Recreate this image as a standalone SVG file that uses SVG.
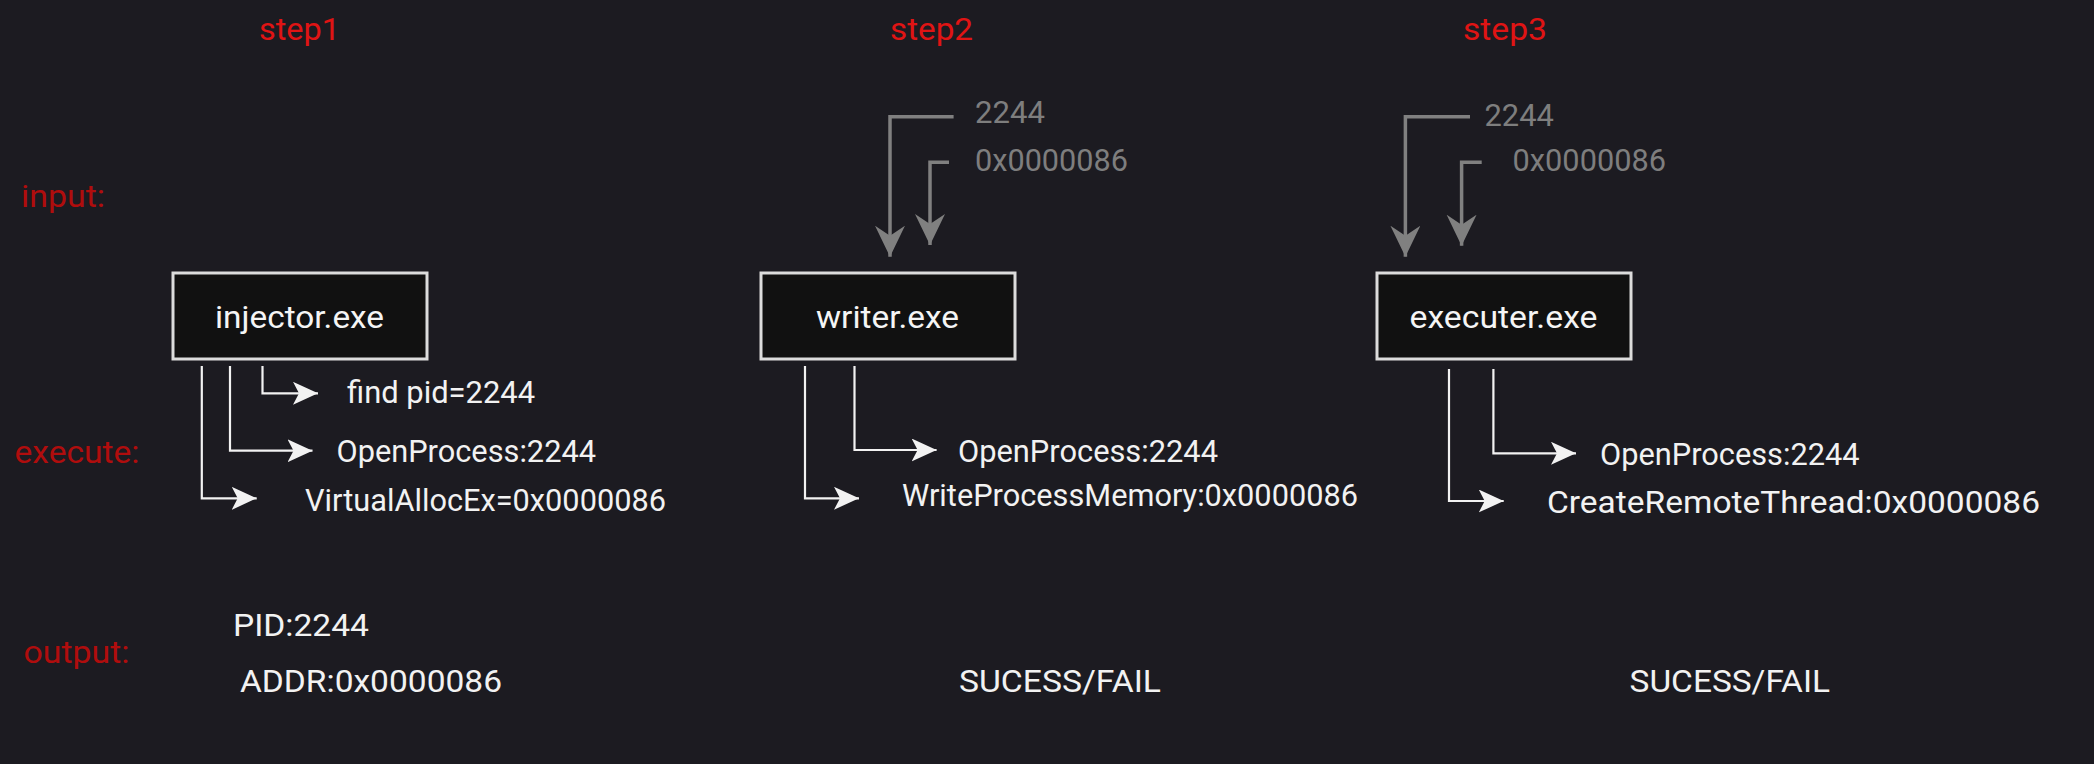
<svg xmlns="http://www.w3.org/2000/svg" width="2094" height="764" viewBox="0 0 2094 764">
  <defs>
    <style>
      text { font-family: Roboto, "Liberation Sans", sans-serif; font-size: 32px; }
      .step { fill: #e01414; }
      .lbl { fill: #b00d0d; }
      .w { fill: #f2f2f2; }
      .g { fill: #7e7e7e; font-size: 31px; }
      .box rect { fill: #111111; stroke: #dcdcdc; stroke-width: 3; }
      .box text { fill: #f5f5f5; text-anchor: middle; }
      .cw { fill: none; stroke: #f2f2f2; stroke-width: 2.2; marker-end: url(#aw); }
      .cg { fill: none; stroke: #808080; stroke-width: 3.5; marker-end: url(#ag); }
    </style>
    <marker id="aw" markerUnits="userSpaceOnUse" markerWidth="26" markerHeight="24" refX="25" refY="11.5" orient="auto" viewBox="0 0 26 24">
      <path d="M0,0 L25,11.5 L0,23 L6,11.5 Z" fill="#f2f2f2"/>
    </marker>
    <marker id="ag" markerUnits="userSpaceOnUse" markerWidth="32" markerHeight="31" refX="31" refY="15" orient="auto" viewBox="0 0 32 31">
      <path d="M0,0 L31,15 L0,30 L10,15 Z" fill="#808080"/>
    </marker>
  </defs>
  <rect width="2094" height="764" fill="#1c1b21"/>

  <g id="labels">
    <text class="step" x="259" y="40" textLength="81" lengthAdjust="spacingAndGlyphs">step1</text>
    <text class="step" x="890" y="40" textLength="83" lengthAdjust="spacingAndGlyphs">step2</text>
    <text class="step" x="1463" y="40" textLength="84" lengthAdjust="spacingAndGlyphs">step3</text>
    <text class="lbl" x="21" y="207" textLength="84" lengthAdjust="spacingAndGlyphs">input:</text>
    <text class="lbl" x="14.5" y="463" textLength="125" lengthAdjust="spacingAndGlyphs">execute:</text>
    <text class="lbl" x="23.5" y="663" textLength="106" lengthAdjust="spacingAndGlyphs">output:</text>
  </g>

  <g id="connectors">
    <path class="cw" d="M262.5,366 V393.3 H318"/>
    <path class="cw" d="M230,366 V450.7 H312.5"/>
    <path class="cw" d="M201.8,366 V498.3 H256.7"/>
    <path class="cg" d="M953.6,116.7 H890 V256.7"/>
    <path class="cg" d="M949,162.3 H930 V245"/>
    <path class="cw" d="M854.5,366 V450 H936.6"/>
    <path class="cw" d="M805,366 V498.3 H859"/>
    <path class="cg" d="M1470,116.7 H1405.4 V256.7"/>
    <path class="cg" d="M1481.7,162.3 H1461.6 V245.7"/>
    <path class="cw" d="M1493.4,369 V453.3 H1576"/>
    <path class="cw" d="M1449,369 V501 H1503.7"/>
  </g>

  <g id="injector" class="box">
    <rect x="173" y="273" width="254" height="86"/>
    <text x="299.5" y="328" textLength="169" lengthAdjust="spacingAndGlyphs">injector.exe</text>
  </g>
  <g id="writer" class="box">
    <rect x="761" y="273" width="254" height="86"/>
    <text x="887.5" y="328" textLength="143" lengthAdjust="spacingAndGlyphs">writer.exe</text>
  </g>
  <g id="executer" class="box">
    <rect x="1377" y="273" width="254" height="86"/>
    <text x="1503.5" y="328" textLength="188" lengthAdjust="spacingAndGlyphs">executer.exe</text>
  </g>

  <g id="step1-texts">
    <text class="w" x="347" y="403" textLength="188" lengthAdjust="spacingAndGlyphs">find pid=2244</text>
    <text class="w" x="336.5" y="462" textLength="259.5" lengthAdjust="spacingAndGlyphs">OpenProcess:2244</text>
    <text class="w" x="305" y="511" textLength="361" lengthAdjust="spacingAndGlyphs">VirtualAllocEx=0x0000086</text>
    <text class="w" x="233" y="636" textLength="136" lengthAdjust="spacingAndGlyphs">PID:2244</text>
    <text class="w" x="240" y="692" textLength="262" lengthAdjust="spacingAndGlyphs">ADDR:0x0000086</text>
  </g>
  <g id="step2-texts">
    <text class="g" x="975" y="123" textLength="70" lengthAdjust="spacingAndGlyphs">2244</text>
    <text class="g" x="975" y="171" textLength="153" lengthAdjust="spacingAndGlyphs">0x0000086</text>
    <text class="w" x="958" y="462" textLength="260" lengthAdjust="spacingAndGlyphs">OpenProcess:2244</text>
    <text class="w" x="902" y="506" textLength="456" lengthAdjust="spacingAndGlyphs">WriteProcessMemory:0x0000086</text>
    <text class="w" x="959" y="692" textLength="202" lengthAdjust="spacingAndGlyphs">SUCESS/FAIL</text>
  </g>
  <g id="step3-texts">
    <text class="g" x="1484.5" y="126" textLength="69.5" lengthAdjust="spacingAndGlyphs">2244</text>
    <text class="g" x="1512.6" y="171" textLength="153.4" lengthAdjust="spacingAndGlyphs">0x0000086</text>
    <text class="w" x="1600" y="465" textLength="259.6" lengthAdjust="spacingAndGlyphs">OpenProcess:2244</text>
    <text class="w" x="1547" y="513" textLength="493" lengthAdjust="spacingAndGlyphs">CreateRemoteThread:0x0000086</text>
    <text class="w" x="1629.6" y="692" textLength="200.4" lengthAdjust="spacingAndGlyphs">SUCESS/FAIL</text>
  </g>
</svg>
